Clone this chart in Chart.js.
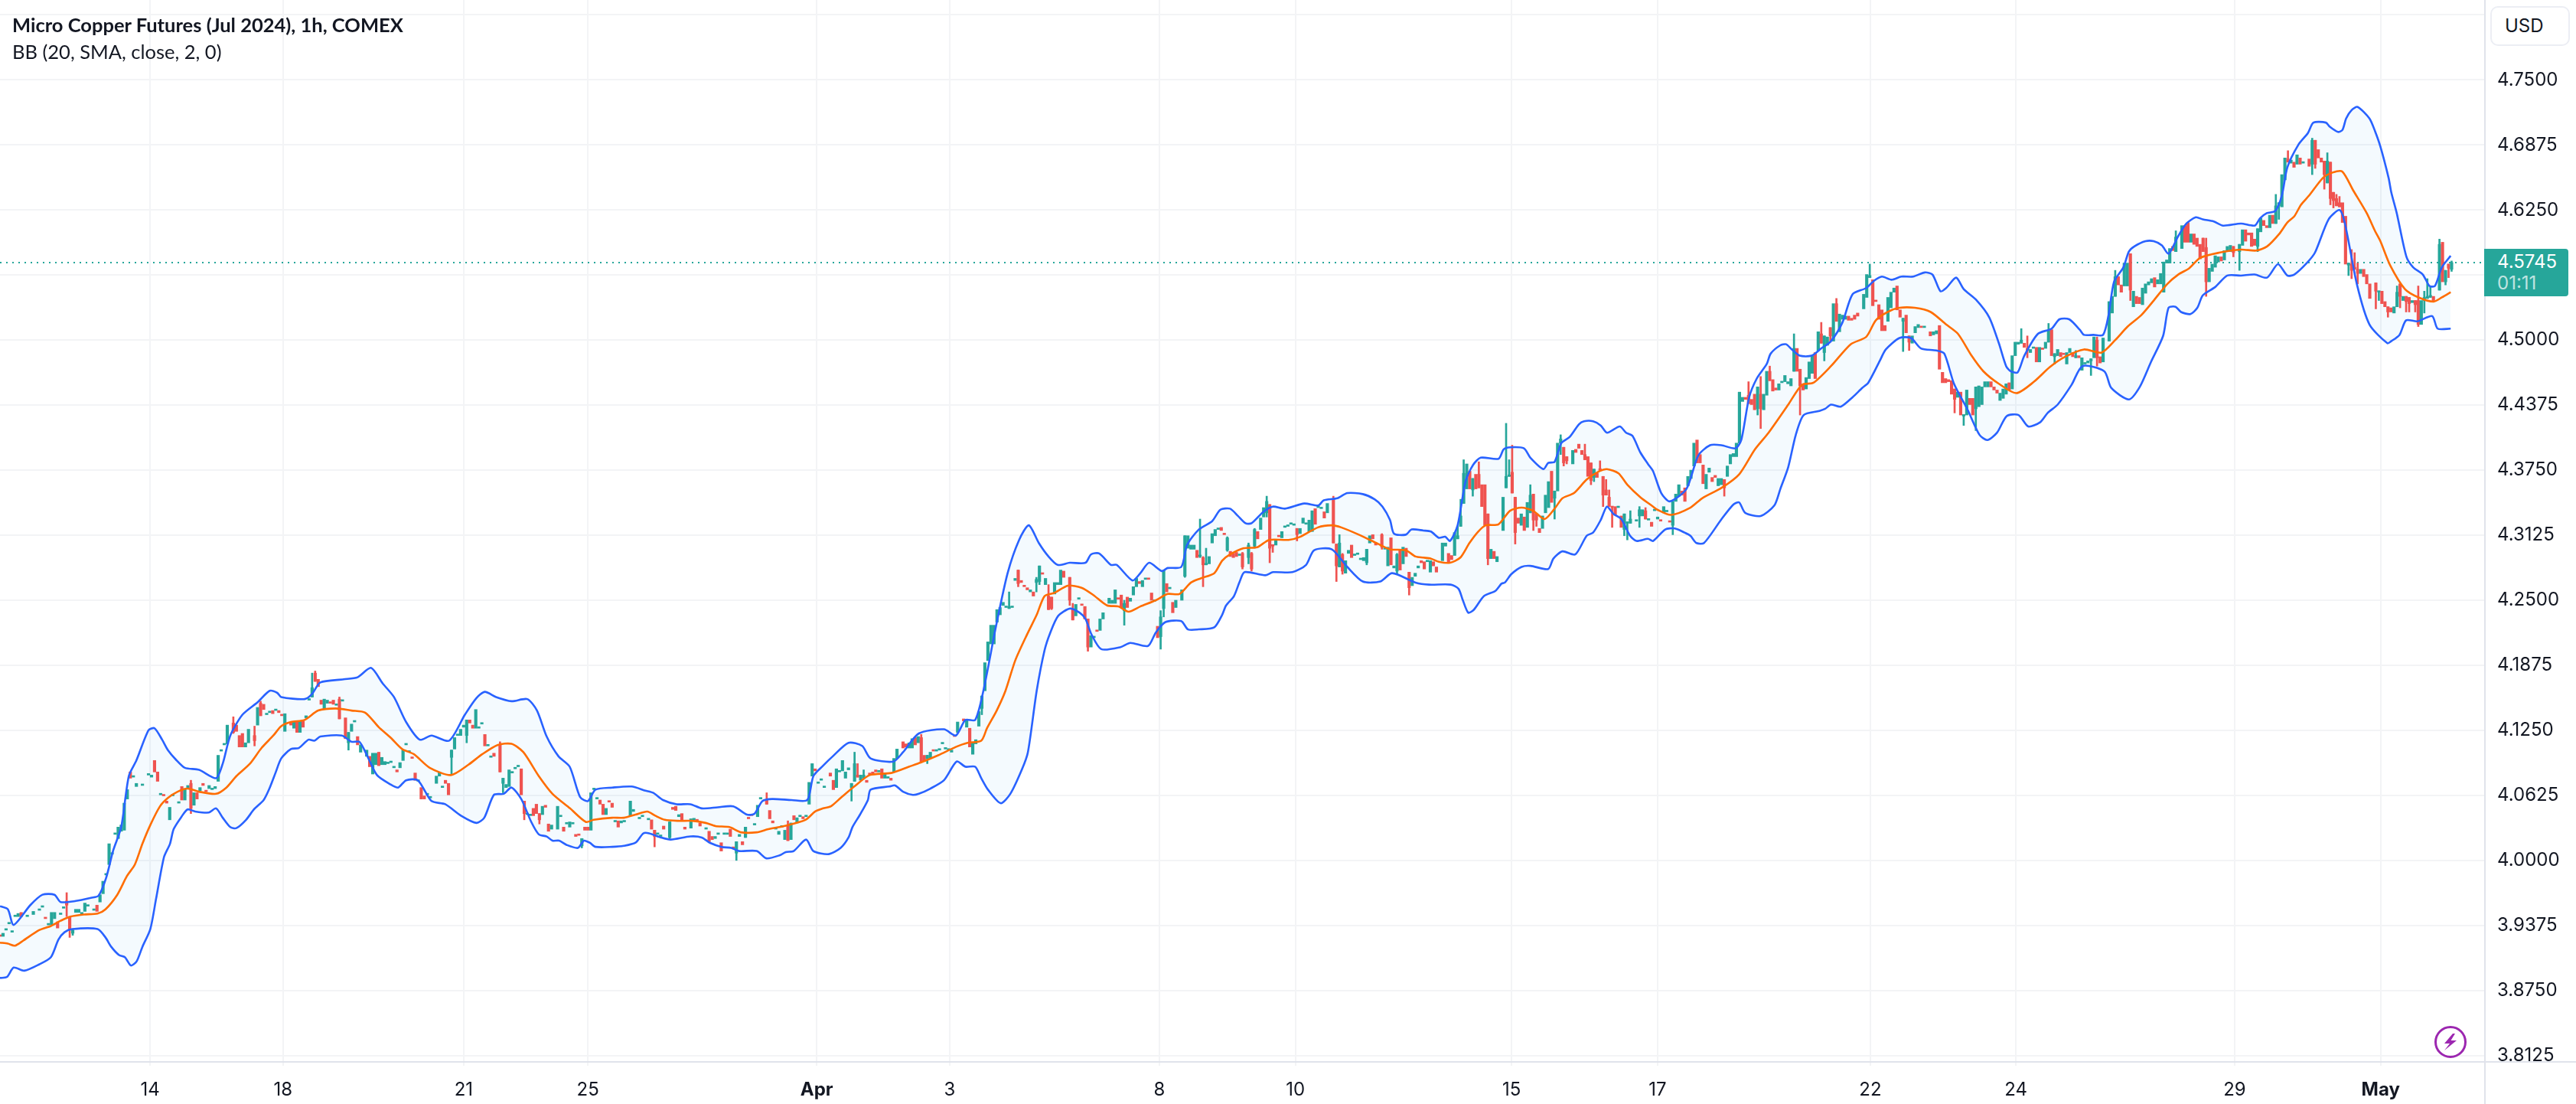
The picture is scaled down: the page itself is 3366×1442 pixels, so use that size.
<!DOCTYPE html>
<html>
<head>
<meta charset="utf-8">
<title>Micro Copper Futures</title>
<script src="https://cdn.jsdelivr.net/npm/chart.js@4"></script>
<style>
  body { margin: 0; background: #fff; font-family: Inter, sans-serif; color: #131722; }
  #wrap { position: relative; width: 3366px; height: 1442px; overflow: hidden; }
  canvas { position: absolute; left: 0; top: 0; }
  .title { position: absolute; left: 16px; font-family: Lato, sans-serif; font-size: 25.5px; line-height: 30px; white-space: nowrap; }
  #usd { position: absolute; left: 3254px; top: 8px; width: 104px; height: 52px; box-sizing: border-box; border: 2px solid #eceef4; border-radius: 10px; font-size: 24px; line-height: 48px; padding-left: 17px; background: #fff; }
  #last { position: absolute; left: 3246px; top: 325px; width: 110px; height: 62px; background: #26a69a; border-radius: 0 4px 4px 0; color: #fff; font-size: 24px; }
  #last div { position: absolute; left: 17px; line-height: 28px; }
  .edge { position: absolute; background: #e0e3eb; }
  #bolt { position: absolute; left: 3180px; top: 1339px; }
</style>
</head>
<body>
<div id="wrap">
  <canvas id="chart" width="3366" height="1442"></canvas>
  <div class="edge" style="left:3246px;top:0;width:2px;height:1442px"></div>
  <div class="edge" style="left:0;top:1386px;width:3366px;height:2px"></div>
  <div class="title" style="top:17px;font-weight:700">Micro Copper Futures (Jul 2024), 1h, COMEX</div>
  <div class="title" style="top:52px">BB (20, SMA, close, 2, 0)</div>
  <div id="usd">USD</div>
  <div id="last"><div style="top:3px">4.5745</div><div style="top:31px;opacity:.7">01:11</div></div>
  <svg id="bolt" width="44" height="44" viewBox="0 0 44 44">
    <circle cx="22" cy="22" r="19.5" fill="none" stroke="#9c27b0" stroke-width="3"/>
    <path d="M25 11 L14 24 L21 24 L14 33 L30 20 L22.500 20 L28 11 Z" fill="#9c27b0"/>
  </svg>
</div>
<script>
const yTicks = [4.8125,4.75,4.6875,4.625,4.5625,4.5,4.4375,4.375,4.3125,4.25,4.1875,4.125,4.0625,4,3.9375,3.875,3.8125]
const yLabels = ["","4.7500","4.6875","4.6250","","4.5000","4.4375","4.3750","4.3125","4.2500","4.1875","4.1250","4.0625","4.0000","3.9375","3.8750","3.8125"]
const xTickBars = [49.5,93.4,153,194,269.5,313.4,382.6,427.5,498.8,547,617.2,665.2,737.4,785.6]
const xLabels = ["14","18","21","25","Apr","3","8","10","15","17","22","24","29","May"]
const boldLabels = ["Apr","May"]
const lastPrice = 4.5745

const candleBars = [
0,1,2,3,4,5,6,7,9,11,13,14,15,16,17,18,19,20,21,22,
23,24,25,26,27,28,29,31,32,33,34,35,36,37,38,39,40,41,42,43,
44,45,47,49,50,51,52,53,54,55,56,57,59,60,61,62,63,64,65,66,
67,68,69,70,71,72,73,74,75,77,78,79,80,81,82,84,85,86,87,88,
89,90,91,92,93,94,96,97,98,99,100,101,102,103,104,105,106,107,108,109,
110,111,112,113,114,115,116,117,118,119,121,122,123,124,125,126,127,128,129,130,
131,132,133,134,135,136,137,138,139,140,141,142,144,145,146,147,148,149,150,151,
152,153,154,155,156,157,158,159,160,161,162,163,165,166,167,168,169,170,171,172,
173,174,175,176,177,178,179,180,181,182,184,185,186,187,188,189,190,191,192,193,
194,195,196,197,198,199,200,201,202,203,204,205,206,208,209,211,212,214,215,216,
217,218,219,221,222,223,224,225,226,228,229,230,231,233,234,235,236,237,238,239,
240,241,242,243,244,245,246,247,248,249,250,251,253,254,255,256,257,258,259,260,
261,262,263,264,265,266,267,268,269,270,271,272,274,275,276,277,278,279,280,281,
282,283,284,285,286,287,288,289,290,291,292,293,294,295,296,298,299,300,301,302,
303,304,305,306,307,308,309,310,311,312,313,314,315,316,318,319,320,321,322,323,
324,325,326,327,328,329,330,331,332,333,334,335,336,337,338,339,340,341,342,343,
344,345,346,347,348,349,350,351,353,354,355,356,357,358,359,360,361,362,363,364,
366,367,368,369,370,371,372,373,374,375,376,377,378,379,380,381,382,383,384,385,
386,387,388,390,391,392,393,394,395,396,397,398,399,400,401,402,403,404,405,406,
407,408,409,410,412,413,414,415,416,417,418,419,420,421,422,423,424,425,426,427,
428,429,430,431,432,433,434,435,436,437,438,440,441,442,443,444,445,446,447,448,
449,450,451,452,453,454,456,457,458,459,460,461,462,463,464,465,466,467,468,469,
470,471,472,473,474,476,477,478,479,480,481,482,483,484,485,486,487,488,489,490,
491,492,493,494,496,497,498,499,500,501,502,503,504,505,506,507,508,509,510,511,
512,513,514,515,516,517,519,520,521,522,523,524,525,526,527,528,529,530,531,532,
533,534,535,536,537,538,540,541,542,543,544,545,546,547,548,549,550,551,552,553,
554,555,556,557,558,559,560,561,562,563,564,565,566,567,568,569,570,571,572,573,
574,575,576,577,578,579,580,581,582,583,584,585,586,587,588,589,590,591,592,593,
594,595,596,597,598,599,600,601,602,603,604,605,606,607,608,609,610,611,612,613,
615,616,617,618,619,620,621,622,623,624,625,626,627,628,629,630,631,632,633,634,
635,637,638,639,640,641,642,643,644,645,646,647,648,649,650,651,652,653,654,655,
656,657,658,659,660,661,662,663,664,665,666,667,668,669,670,671,672,673,674,675,
676,677,678,679,680,681,682,683,684,685,686,687,688,689,690,691,692,693,694,696,
697,698,699,700,701,702,703,704,705,706,707,708,709,710,711,712,713,714,715,716,
717,718,720,721,722,723,724,725,726,727,728,729,730,731,732,733,734,735,736,737,
739,740,741,742,743,744,745,746,747,748,749,750,751,752,753,754,755,756,757,758,
759,760,762,763,764,765,766,767,768,769,770,771,772,773,774,775,776,777,778,779,
780,781,782,784,785,786,787,788,789,790,791,792,793,794,795,796,797,798,799,800,
801,802,803,805,806,807,808,809]

const candleOpen = [
3.928,3.927,3.933,3.939,3.931,3.946,3.946,3.950,3.946,3.948,3.952,3.955,3.945,3.938,3.938,3.944,3.941,3.948,3.954,3.961,
3.946,3.930,3.950,3.950,3.948,3.951,3.956,3.952,3.957,3.960,3.968,3.986,3.996,4.006,4.025,4.021,4.028,4.029,4.059,4.085,
4.080,4.071,4.072,4.082,4.080,4.096,4.085,4.063,4.063,4.057,4.039,4.062,4.055,4.071,4.058,4.069,4.074,4.053,4.065,4.067,
4.074,4.067,4.069,4.068,4.069,4.076,4.105,4.111,4.112,4.132,4.130,4.120,4.122,4.109,4.113,4.120,4.130,4.151,4.150,4.140,
4.142,4.144,4.144,4.144,4.140,4.124,4.132,4.127,4.134,4.123,4.134,4.137,4.154,4.157,4.180,4.174,4.154,4.145,4.151,4.152,
4.154,4.149,4.155,4.153,4.137,4.113,4.124,4.133,4.119,4.104,4.100,4.100,4.083,4.092,4.104,4.092,4.092,4.093,4.094,4.089,
4.087,4.089,4.096,4.111,4.104,4.099,4.084,4.076,4.070,4.062,4.063,4.060,4.074,4.081,4.070,4.077,4.074,4.099,4.107,4.120,
4.120,4.128,4.120,4.135,4.130,4.127,4.127,4.131,4.121,4.110,4.099,4.103,4.111,4.074,4.070,4.071,4.084,4.088,4.090,4.088,
4.057,4.044,4.043,4.050,4.054,4.045,4.044,4.053,4.035,4.030,4.030,4.042,4.032,4.035,4.032,4.035,4.025,4.025,4.014,4.032,
4.032,4.029,4.068,4.059,4.058,4.054,4.044,4.057,4.055,4.037,4.038,4.036,4.037,4.043,4.047,4.040,4.042,4.039,4.039,4.029,
4.025,4.023,4.033,4.022,4.051,4.052,4.042,4.045,4.032,4.031,4.039,4.039,4.036,4.030,4.028,4.023,4.021,4.025,4.017,4.025,
4.025,4.030,4.013,4.007,4.023,4.018,4.022,4.041,4.044,4.034,4.042,4.059,4.058,4.048,4.038,4.030,4.025,4.032,4.020,4.034,
4.020,4.043,4.036,4.042,4.042,4.042,4.054,4.081,4.088,4.074,4.077,4.070,4.084,4.077,4.070,4.085,4.086,4.079,4.087,4.070,
4.076,4.082,4.077,4.079,4.077,4.084,4.085,4.087,4.085,4.088,4.079,4.079,4.079,4.085,4.098,4.114,4.112,4.108,4.108,4.118,
4.113,4.118,4.101,4.098,4.098,4.106,4.105,4.106,4.112,4.107,4.106,4.104,4.120,4.123,4.136,4.128,4.127,4.102,4.112,4.129,
4.146,4.163,4.192,4.208,4.208,4.229,4.236,4.245,4.243,4.242,4.243,4.269,4.279,4.269,4.264,4.262,4.258,4.258,4.267,4.268,
4.276,4.265,4.254,4.253,4.256,4.265,4.265,4.278,4.272,4.241,4.235,4.251,4.246,4.244,4.232,4.205,4.214,4.221,4.221,4.232,
4.247,4.247,4.247,4.252,4.255,4.240,4.253,4.249,4.255,4.263,4.268,4.263,4.270,4.271,4.257,4.249,4.225,4.215,4.242,4.266,
4.261,4.248,4.243,4.250,4.273,4.300,4.299,4.299,4.298,4.292,4.291,4.284,4.285,4.305,4.312,4.318,4.320,4.314,4.298,4.297,
4.295,4.296,4.293,4.295,4.291,4.295,4.302,4.316,4.318,4.330,4.334,4.342,4.303,4.303,4.312,4.310,4.320,4.321,4.323,4.322,
4.319,4.314,4.324,4.323,4.316,4.316,4.338,4.339,4.338,4.335,4.334,4.347,4.304,4.282,4.294,4.276,4.295,4.303,4.293,4.294,
4.289,4.288,4.286,4.305,4.313,4.305,4.313,4.299,4.283,4.310,4.281,4.278,4.298,4.285,4.300,4.277,4.264,4.273,4.281,4.288,
4.287,4.287,4.277,4.287,4.282,4.288,4.302,4.295,4.293,4.293,4.309,4.321,4.343,4.357,4.374,4.356,4.371,4.371,4.361,4.361,
4.333,4.290,4.297,4.287,4.317,4.358,4.369,4.373,4.349,4.329,4.322,4.330,4.320,4.334,4.352,4.333,4.319,4.319,4.334,4.339,
4.374,4.348,4.355,4.401,4.397,4.388,4.381,4.395,4.400,4.394,4.390,4.388,4.382,4.368,4.372,4.376,4.369,4.356,4.349,4.340,
4.340,4.339,4.331,4.318,4.324,4.324,4.326,4.331,4.331,4.336,4.327,4.325,4.336,4.328,4.327,4.334,4.335,4.326,4.322,4.345,
4.350,4.355,4.358,4.360,4.367,4.379,4.404,4.390,4.380,4.357,4.373,4.368,4.370,4.360,4.361,4.366,4.369,4.381,4.388,4.388,
4.401,4.441,4.445,4.447,4.443,4.448,4.434,4.448,4.433,4.447,4.470,4.462,4.454,4.452,4.459,4.460,4.458,4.456,4.470,4.492,
4.472,4.457,4.453,4.463,4.468,4.488,4.490,4.506,4.488,4.495,4.512,4.499,4.535,4.508,4.520,4.520,4.523,4.521,4.524,4.526,
4.530,4.541,4.560,4.558,4.538,4.534,4.529,4.514,4.518,4.531,4.546,4.552,4.529,4.518,4.524,4.504,4.497,4.507,4.512,4.513,
4.512,4.508,4.505,4.506,4.514,4.469,4.463,4.462,4.461,4.453,4.445,4.450,4.427,4.428,4.444,4.444,4.434,4.436,4.438,4.455,
4.455,4.460,4.455,4.452,4.442,4.444,4.448,4.459,4.453,4.485,4.496,4.497,4.497,4.492,4.488,4.492,4.493,4.479,4.492,4.492,
4.498,4.510,4.484,4.485,4.488,4.487,4.477,4.488,4.488,4.483,4.485,4.471,4.477,4.478,4.480,4.483,4.500,4.484,4.479,4.499,
4.526,4.542,4.561,4.553,4.552,4.552,4.583,4.532,4.542,4.541,4.534,4.545,4.553,4.555,4.560,4.554,4.554,4.546,4.574,4.574,
4.590,4.585,4.588,4.610,4.613,4.594,4.602,4.598,4.592,4.598,4.589,4.556,4.566,4.570,4.575,4.580,4.577,4.585,4.585,4.590,
4.585,4.591,4.606,4.603,4.603,4.597,4.590,4.604,4.615,4.610,4.608,4.620,4.612,4.629,4.628,4.654,4.674,4.670,4.671,4.669,
4.675,4.670,4.674,4.669,4.692,4.683,4.675,4.672,4.651,4.671,4.642,4.636,4.632,4.632,4.619,4.572,4.573,4.570,4.568,4.564,
4.568,4.563,4.554,4.555,4.546,4.547,4.537,4.532,4.531,4.526,4.532,4.554,4.538,4.542,4.541,4.536,4.538,4.538,4.515,4.538,
4.540,4.541,4.542,4.548,4.594,4.556,4.573,4.568]

const candleClose = [
3.927,3.930,3.934,3.940,3.932,3.947,3.949,3.946,3.947,3.951,3.953,3.956,3.944,3.939,3.950,3.950,3.935,3.949,3.955,3.957,
3.934,3.933,3.953,3.953,3.950,3.959,3.957,3.953,3.951,3.967,3.980,3.987,4.016,4.007,4.026,4.032,4.034,4.055,4.068,4.079,
4.081,4.074,4.073,4.083,4.082,4.085,4.076,4.064,4.062,4.055,4.051,4.063,4.056,4.058,4.069,4.072,4.050,4.065,4.059,4.070,
4.072,4.066,4.072,4.069,4.071,4.101,4.106,4.112,4.130,4.123,4.124,4.109,4.109,4.113,4.126,4.115,4.147,4.139,4.145,4.141,
4.143,4.141,4.145,4.142,4.139,4.141,4.130,4.133,4.123,4.134,4.128,4.139,4.155,4.166,4.172,4.167,4.150,4.155,4.154,4.151,
4.150,4.150,4.136,4.154,4.117,4.123,4.131,4.134,4.111,4.111,4.106,4.090,4.103,4.103,4.091,4.099,4.095,4.094,4.095,4.090,
4.085,4.094,4.106,4.112,4.105,4.098,4.077,4.077,4.059,4.059,4.064,4.061,4.081,4.085,4.071,4.074,4.063,4.106,4.118,4.121,
4.126,4.130,4.135,4.132,4.127,4.145,4.128,4.132,4.110,4.111,4.100,4.100,4.085,4.079,4.073,4.087,4.085,4.089,4.091,4.063,
4.045,4.045,4.044,4.043,4.045,4.039,4.052,4.051,4.028,4.034,4.052,4.043,4.028,4.036,4.037,4.036,4.023,4.024,4.021,4.029,
4.029,4.065,4.069,4.060,4.054,4.044,4.050,4.056,4.051,4.038,4.032,4.038,4.038,4.057,4.049,4.041,4.043,4.040,4.030,4.023,
4.026,4.024,4.030,4.037,4.049,4.048,4.044,4.039,4.030,4.040,4.040,4.038,4.033,4.031,4.018,4.020,4.023,4.026,4.009,4.026,
4.026,4.023,4.011,4.018,4.025,4.015,4.032,4.040,4.043,4.035,4.053,4.060,4.054,4.040,4.036,4.031,4.028,4.033,4.029,4.019,
4.036,4.039,4.041,4.043,4.040,4.043,4.075,4.093,4.086,4.075,4.078,4.071,4.081,4.068,4.088,4.086,4.096,4.085,4.089,4.074,
4.093,4.080,4.082,4.082,4.075,4.082,4.083,4.085,4.086,4.079,4.083,4.080,4.077,4.098,4.107,4.108,4.109,4.113,4.117,4.111,
4.119,4.095,4.095,4.101,4.104,4.105,4.106,4.107,4.113,4.108,4.107,4.106,4.119,4.133,4.134,4.135,4.109,4.113,4.116,4.143,
4.158,4.190,4.210,4.226,4.226,4.241,4.243,4.248,4.244,4.244,4.244,4.271,4.266,4.267,4.263,4.260,4.260,4.254,4.270,4.283,
4.275,4.271,4.241,4.242,4.267,4.267,4.279,4.272,4.250,4.231,4.246,4.252,4.245,4.232,4.205,4.216,4.215,4.220,4.232,4.238,
4.252,4.250,4.260,4.251,4.243,4.247,4.243,4.252,4.263,4.271,4.266,4.269,4.271,4.270,4.250,4.250,4.214,4.234,4.279,4.258,
4.262,4.238,4.250,4.260,4.312,4.312,4.303,4.303,4.291,4.293,4.284,4.285,4.292,4.314,4.318,4.319,4.317,4.313,4.310,4.292,
4.291,4.292,4.294,4.282,4.303,4.280,4.318,4.309,4.329,4.339,4.345,4.300,4.302,4.308,4.311,4.316,4.321,4.322,4.324,4.323,
4.313,4.319,4.329,4.324,4.327,4.336,4.323,4.340,4.339,4.329,4.343,4.305,4.283,4.305,4.278,4.288,4.298,4.291,4.294,4.295,
4.290,4.291,4.299,4.312,4.309,4.303,4.301,4.300,4.301,4.284,4.283,4.294,4.279,4.301,4.292,4.262,4.272,4.276,4.283,4.286,
4.280,4.288,4.288,4.283,4.277,4.305,4.305,4.286,4.289,4.315,4.312,4.331,4.372,4.381,4.357,4.367,4.357,4.358,4.340,4.322,
4.290,4.299,4.290,4.292,4.349,4.369,4.370,4.353,4.315,4.324,4.333,4.317,4.344,4.351,4.327,4.327,4.315,4.331,4.351,4.364,
4.344,4.355,4.401,4.405,4.382,4.384,4.394,4.392,4.396,4.390,4.385,4.369,4.365,4.376,4.368,4.375,4.351,4.351,4.340,4.339,
4.332,4.340,4.320,4.333,4.325,4.328,4.327,4.337,4.337,4.328,4.328,4.321,4.337,4.330,4.326,4.340,4.336,4.325,4.345,4.352,
4.361,4.351,4.345,4.369,4.375,4.401,4.382,4.382,4.362,4.371,4.377,4.364,4.368,4.367,4.367,4.358,4.379,4.390,4.391,4.401,
4.450,4.445,4.443,4.439,4.438,4.433,4.455,4.434,4.448,4.470,4.461,4.451,4.452,4.458,4.460,4.466,4.460,4.463,4.492,4.470,
4.456,4.452,4.464,4.479,4.485,4.463,4.508,4.497,4.504,4.503,4.504,4.535,4.518,4.525,4.524,4.523,4.519,4.519,4.520,4.523,
4.544,4.563,4.562,4.533,4.537,4.520,4.509,4.509,4.541,4.546,4.550,4.529,4.522,4.521,4.507,4.498,4.504,4.513,4.515,4.512,
4.513,4.504,4.508,4.509,4.472,4.459,4.459,4.460,4.448,4.443,4.450,4.428,4.428,4.452,4.438,4.428,4.455,4.456,4.455,4.460,
4.460,4.455,4.452,4.449,4.449,4.453,4.458,4.452,4.485,4.498,4.498,4.500,4.493,4.490,4.491,4.493,4.479,4.493,4.491,4.498,
4.509,4.485,4.487,4.491,4.484,4.486,4.488,4.492,4.484,4.485,4.483,4.483,4.478,4.480,4.482,4.503,4.483,4.478,4.502,4.537,
4.542,4.561,4.553,4.546,4.574,4.574,4.548,4.547,4.535,4.535,4.550,4.554,4.556,4.559,4.551,4.558,4.564,4.575,4.577,4.588,
4.586,4.599,4.610,4.594,4.594,4.602,4.592,4.590,4.578,4.585,4.556,4.569,4.573,4.581,4.580,4.576,4.586,4.590,4.591,4.584,
4.592,4.606,4.595,4.601,4.590,4.591,4.607,4.617,4.610,4.608,4.620,4.612,4.629,4.632,4.659,4.675,4.671,4.673,4.666,4.678,
4.669,4.671,4.667,4.692,4.669,4.675,4.671,4.659,4.672,4.636,4.634,4.629,4.628,4.613,4.573,4.574,4.567,4.568,4.564,4.568,
4.561,4.554,4.540,4.547,4.547,4.535,4.532,4.527,4.527,4.532,4.546,4.542,4.542,4.537,4.535,4.538,4.534,4.515,4.538,4.541,
4.542,4.543,4.538,4.592,4.556,4.567,4.569,4.5745]

const wickBars = [
22,23,24,63,77,84,86,103,104,112,115,149,154,165,166,173,178,192,216,221,
243,246,253,260,281,282,283,285,304,306,324,333,336,342,343,346,347,353,354,359,
371,383,384,391,396,397,398,405,410,412,413,414,418,419,420,428,440,441,442,443,
451,456,461,465,481,482,483,486,488,491,497,498,499,500,505,506,507,513,515,516,
517,523,525,526,528,529,530,531,532,536,537,538,541,543,552,569,577,580,581,584,
592,594,601,602,604,606,617,628,630,645,648,652,667,669,676,678,685,690,692,698,
703,714,718,727,728,737,739,745,751,752,755,763,764,767,768,769,770,771,772,775,
776,777,778,784,785,788,791,792,794,795,797,798,800,801,802,805,807,808,809]

const wickHigh = [
3.969,3.946,3.934,4.077,4.138,4.129,4.153,4.180,4.182,4.157,4.123,4.106,4.135,4.114,4.079,4.057,4.045,4.021,4.029,4.037,
4.018,4.032,4.065,4.038,4.074,4.104,4.093,4.087,4.121,4.101,4.158,4.258,4.279,4.272,4.283,4.265,4.253,4.272,4.247,4.232,
4.250,4.240,4.279,4.312,4.328,4.292,4.300,4.311,4.296,4.305,4.296,4.319,4.350,4.342,4.303,4.319,4.350,4.304,4.313,4.295,
4.299,4.314,4.295,4.277,4.321,4.347,4.385,4.367,4.383,4.333,4.420,4.385,4.399,4.349,4.361,4.352,4.333,4.355,4.409,4.397,
4.388,4.400,4.382,4.376,4.384,4.369,4.366,4.356,4.340,4.333,4.325,4.336,4.340,4.339,4.345,4.366,4.460,4.455,4.465,4.475,
4.506,4.472,4.517,4.504,4.512,4.540,4.573,4.521,4.504,4.453,4.428,4.455,4.511,4.504,4.516,4.487,4.490,4.482,4.503,4.567,
4.583,4.575,4.605,4.598,4.598,4.590,4.592,4.607,4.640,4.632,4.682,4.694,4.692,4.672,4.680,4.671,4.642,4.640,4.638,4.574,
4.587,4.584,4.574,4.555,4.547,4.532,4.552,4.554,4.542,4.541,4.538,4.552,4.547,4.559,4.551,4.597,4.567,4.573,4.576]

const wickLow = [
3.946,3.926,3.928,4.045,4.122,4.110,4.139,4.157,4.172,4.136,4.106,4.082,4.113,4.085,4.065,4.039,4.035,4.012,4.013,4.021,
4.000,4.022,4.054,4.019,4.057,4.076,4.080,4.079,4.095,4.093,4.140,4.242,4.263,4.258,4.265,4.241,4.241,4.245,4.231,4.201,
4.226,4.203,4.234,4.272,4.291,4.263,4.284,4.297,4.280,4.285,4.278,4.300,4.330,4.286,4.296,4.307,4.305,4.268,4.282,4.275,
4.284,4.299,4.275,4.255,4.309,4.321,4.343,4.350,4.358,4.284,4.358,4.369,4.353,4.304,4.334,4.317,4.321,4.328,4.390,4.379,
4.381,4.385,4.361,4.364,4.375,4.340,4.351,4.340,4.320,4.312,4.308,4.324,4.320,4.328,4.313,4.350,4.439,4.428,4.415,4.461,
4.470,4.428,4.497,4.480,4.498,4.518,4.560,4.489,4.490,4.430,4.418,4.413,4.497,4.483,4.498,4.477,4.483,4.466,4.475,4.542,
4.538,4.546,4.585,4.585,4.542,4.580,4.567,4.585,4.612,4.616,4.671,4.659,4.665,4.645,4.651,4.630,4.627,4.629,4.628,4.562,
4.559,4.568,4.554,4.530,4.538,4.522,4.532,4.531,4.527,4.527,4.527,4.513,4.526,4.540,4.541,4.548,4.553,4.560,4.566]

const upperBars = [
0,2.6,4.5,10,14,18,20,25,30,32.5,35,37.4,40,42.5,45,49,51,53.5,55.4,58,
61,65.7,71.3,73.5,76,80,85,89,91.5,92.8,100.5,103,105.7,113.4,118,122.4,126.3,130,134,138.5,
142.4,148.2,153.4,157.2,160,163.7,168.8,174,177.2,180.4,184.3,188,191.4,194,196.5,202,208.4,213,215.5,218.8,
223.3,227.8,231.6,236.8,242,246.5,249,251.6,254.8,261.3,266.4,268.4,271.6,274.8,280,284.5,287.3,294.8,298,303.2,
311.5,315.4,318.6,321.8,324.5,328.6,332.5,336.3,339.5,342.8,346,349,353,358.2,360,362.7,366.6,368.5,373.7,376.3,
379.2,383.4,385.3,389.8,391.7,395.6,400,402.7,405.9,408.5,411,413,416.9,420,424,430.4,435,436.8,441.3,444.6,
449.7,453.6,456.2,458.7,460,463.9,465.8,469.7,472.2,474.8,476.9,478.5,481,483.6,486.1,488.6,494.5,496.2,498.3,502.9,
505,509.3,510.9,513,515.2,518,521,522.7,525.7,528.2,530.3,534.5,536.6,538.7,541.3,543.8,545.5,548.2,551,556.5,
560.4,564.3,568,572.7,574.6,577.2,579.7,583,584.3,587.5,589.4,591.3,593.9,597.8,601,604.2,608,611.3,615.8,618.4,
621,624.2,627.4,631.3,635.2,637.7,640.3,642.2,645.5,648,652,656.4,659.6,662,663.5,665.8,668,672.5,677,679.6,
682.8,686.3,687.7,690.8,694,695.8,697.6,700.7,702.5,704.3,708,710.7,713.4,715.6,718.8,721.5,724.6,726.9,730.5,733.6,
739.5,744,745.8,748,750.8,753,754.8,758.5,761.6,763.4,767.5,768.8,771.5,773,774.2,776,778,781.9,783.7,785.5,
788.2,789.1,790.9,794.1,796.3,799.5,801.7,803.5,805.8,808.7]

const upperBand = [
3.956,3.953,3.938,3.957,3.967,3.967,3.960,3.961,3.964,3.966,3.983,4.010,4.032,4.081,4.096,4.125,4.127,4.116,4.106,4.097,
4.089,4.087,4.079,4.093,4.120,4.140,4.152,4.163,4.161,4.157,4.155,4.160,4.171,4.174,4.176,4.185,4.170,4.157,4.133,4.116,
4.120,4.115,4.140,4.156,4.162,4.157,4.153,4.155,4.144,4.119,4.100,4.090,4.061,4.057,4.068,4.070,4.071,4.067,4.065,4.058,
4.054,4.054,4.050,4.051,4.052,4.044,4.045,4.057,4.059,4.058,4.058,4.081,4.091,4.100,4.113,4.110,4.098,4.095,4.104,4.122,
4.126,4.120,4.135,4.135,4.163,4.224,4.276,4.308,4.322,4.305,4.292,4.284,4.286,4.286,4.294,4.295,4.284,4.284,4.269,4.276,
4.286,4.278,4.281,4.282,4.303,4.318,4.326,4.337,4.338,4.331,4.324,4.324,4.335,4.340,4.338,4.343,4.341,4.346,4.348,4.353,
4.352,4.347,4.340,4.327,4.314,4.313,4.318,4.317,4.316,4.310,4.311,4.307,4.322,4.364,4.380,4.387,4.386,4.395,4.397,4.396,
4.387,4.376,4.382,4.383,4.401,4.407,4.419,4.422,4.422,4.418,4.411,4.417,4.411,4.408,4.392,4.381,4.374,4.353,4.345,4.357,
4.389,4.399,4.399,4.396,4.404,4.445,4.463,4.477,4.487,4.495,4.496,4.491,4.485,4.485,4.492,4.499,4.517,4.544,4.550,4.557,
4.561,4.558,4.561,4.561,4.565,4.563,4.547,4.550,4.560,4.549,4.539,4.522,4.497,4.475,4.470,4.469,4.485,4.506,4.511,4.520,
4.520,4.510,4.505,4.505,4.505,4.524,4.556,4.570,4.585,4.590,4.595,4.595,4.591,4.583,4.600,4.612,4.618,4.616,4.614,4.610,
4.612,4.610,4.617,4.622,4.624,4.639,4.666,4.688,4.699,4.709,4.709,4.705,4.700,4.702,4.713,4.721,4.724,4.713,4.701,4.686,
4.656,4.642,4.622,4.580,4.570,4.563,4.552,4.552,4.570,4.581]

const basisBars = [
0,2.6,4.9,7.7,12.9,16.8,20,23.2,27.7,32.2,34.8,38.7,41.9,44.5,47,49.6,52.8,55.4,58.6,61.9,
65.7,71.3,74.7,78,82.5,86.3,90.2,92.8,96,100.5,105,110.8,116,120.5,125,128.9,132.7,136.6,141.8,148.8,
154.6,159.1,164.3,168.8,172.7,177.8,182.3,188.1,193.3,195.9,202,205.9,209.7,213.6,216.2,219.4,223.9,228.4,232.9,236.1,
240.7,244.5,249.7,253.5,258.7,265.8,269,271.6,274.2,277.4,281.9,287,294.1,299.9,303.8,309.6,315.4,319.3,323.8,325.7,
328.9,331.8,335,338.9,342.1,344.7,347.9,352.4,356.9,360.8,365.3,369.2,372.4,376.3,381.4,385.3,389.2,393,396.2,400.7,
403.3,405.9,410.4,414.9,418.8,425.2,429.1,434.9,439.4,442.6,448.4,454.2,458.7,463.9,467.1,469.7,472.2,474.8,478.5,481.9,
484.9,487.8,490.3,494.5,498.3,502.1,505.9,509.7,513,515.6,519.4,523.6,527.8,530.3,534.1,537,541.3,545.5,546.9,551.4,
557.8,561.7,568.1,573.9,579.1,583.6,590.1,594.6,598.4,604.2,610.7,615.8,619,622.9,626.8,631.9,637.1,642.2,646.1,650.6,
654.5,659.6,665.4,671.2,676.4,681.5,687.7,693.5,698,702.1,706.6,710.7,715.2,718.8,722.4,726,732.3,739.5,744.5,748.1,
752.1,754.8,757.1,759.3,762,766.6,769.7,772.9,776.5,781,783.7,785.5,788.7,793.6,798.1,803.1,805.8,808.7]

const basisBand = [
3.921,3.920,3.918,3.923,3.933,3.937,3.942,3.946,3.948,3.949,3.953,3.967,3.985,3.996,4.016,4.034,4.052,4.060,4.066,4.069,
4.066,4.064,4.070,4.081,4.093,4.108,4.120,4.129,4.133,4.135,4.144,4.146,4.144,4.142,4.128,4.118,4.107,4.102,4.089,4.082,
4.092,4.102,4.111,4.112,4.104,4.081,4.064,4.050,4.037,4.039,4.041,4.041,4.044,4.047,4.043,4.039,4.038,4.038,4.036,4.033,
4.032,4.027,4.027,4.030,4.033,4.039,4.047,4.050,4.052,4.060,4.071,4.082,4.084,4.090,4.094,4.101,4.109,4.113,4.115,4.127,
4.144,4.163,4.192,4.217,4.236,4.254,4.257,4.264,4.262,4.255,4.245,4.244,4.239,4.244,4.250,4.256,4.256,4.267,4.271,4.276,
4.288,4.294,4.300,4.301,4.308,4.308,4.311,4.320,4.322,4.320,4.313,4.305,4.299,4.298,4.292,4.291,4.290,4.287,4.286,4.291,
4.305,4.316,4.322,4.323,4.336,4.339,4.336,4.328,4.338,4.348,4.353,4.366,4.374,4.376,4.372,4.361,4.349,4.340,4.337,4.332,
4.339,4.348,4.358,4.371,4.395,4.411,4.438,4.457,4.459,4.475,4.496,4.503,4.519,4.527,4.531,4.531,4.527,4.515,4.506,4.485,
4.470,4.458,4.449,4.460,4.474,4.484,4.491,4.488,4.500,4.513,4.524,4.538,4.554,4.563,4.569,4.579,4.584,4.587,4.586,4.590,
4.602,4.613,4.619,4.630,4.639,4.656,4.661,4.662,4.644,4.622,4.605,4.595,4.572,4.549,4.541,4.537,4.541,4.546]

const lowerBars = [
0,2.3,4.5,8,12.9,16.8,19.3,21.3,23.8,32.2,34.8,36.7,39.3,41.2,43.2,45.1,47,49.6,51.5,54.1,
56.1,57.3,59.9,61.9,64.4,68.9,71.3,73.5,76,78,81.2,83.8,87,88.9,90.9,92.8,96,98.6,101.8,103.7,
105.7,112.8,116,118.6,121.1,124.4,128.9,131.4,134,137.9,142.4,146.9,152.1,157.2,159.8,163,166.2,168.8,172,175.3,
177.8,180.4,182.3,184.5,186.9,190.7,192.7,194.6,196.5,202,205.9,209.7,212.3,214.2,218.1,221.3,227.8,231.6,234.2,238.1,
241.3,243.9,249.7,252.9,257.4,259.3,261.9,266,268.4,273.5,277.4,280,281.3,283.8,286.4,287.3,293.5,295.4,298,301.2,
303.2,307,311.5,315.7,318.6,321.8,323.8,326,330.2,333.4,337.3,339.2,342.1,344.7,346.6,349.2,353.1,356.3,358.2,360.2,
363.4,369.8,373,378.8,381.4,384.6,389.8,392,395.6,400.7,403.3,404.6,407.2,409.1,410.7,417.5,420.1,426.5,431,433.6,
439.4,444.6,449.7,455.5,459.4,467.1,471.6,478.7,481.3,482.6,484.5,486.4,489.7,493.5,495.5,496.6,498.7,502.1,505,510.9,
512.6,515.6,519.8,523.6,525.7,528.2,530.3,532.4,535,537.9,540,543.8,545.5,549.5,552.7,555.9,557.8,559.8,562.3,568.1,
572,573.9,575.9,581,585.5,587.5,590.1,592.6,595.2,600.4,602.3,604.2,607.4,611.3,614.5,616.5,620.3,622.3,626.8,630.6,
633.9,639,641.6,644.8,649.3,653.2,655.8,659,662.2,666.1,669.3,673.2,675.7,679,683.6,687.2,694.4,696.7,702.5,706.1,
709.8,713.8,715.6,717.9,719.7,722.8,725.1,726.9,731,735,739.5,744,748.1,751.7,754.8,757.1,761.2,763.9,768.4,772,
773.8,777.8,781.9,787.8,789.1,791.8,794,797.7,802.6,804.4,808.7]

const lowerBand = [
3.887,3.888,3.897,3.894,3.900,3.907,3.924,3.931,3.934,3.934,3.926,3.917,3.909,3.907,3.899,3.903,3.917,3.934,3.963,4.003,
4.016,4.030,4.042,4.049,4.047,4.046,4.050,4.041,4.032,4.031,4.039,4.049,4.058,4.069,4.084,4.098,4.107,4.108,4.116,4.115,
4.119,4.120,4.114,4.114,4.101,4.082,4.073,4.070,4.077,4.077,4.057,4.054,4.043,4.036,4.041,4.063,4.064,4.070,4.059,4.037,
4.025,4.023,4.019,4.019,4.015,4.012,4.019,4.017,4.013,4.013,4.014,4.017,4.026,4.026,4.022,4.020,4.023,4.022,4.017,4.013,
4.012,4.009,4.009,4.002,4.005,4.008,4.009,4.020,4.009,4.006,4.012,4.022,4.032,4.044,4.058,4.068,4.071,4.072,4.066,4.063,
4.064,4.069,4.077,4.095,4.090,4.090,4.079,4.068,4.055,4.064,4.088,4.104,4.163,4.202,4.219,4.235,4.242,4.238,4.232,4.217,
4.203,4.205,4.209,4.206,4.219,4.229,4.230,4.222,4.222,4.224,4.236,4.245,4.254,4.268,4.277,4.274,4.277,4.277,4.284,4.298,
4.299,4.282,4.268,4.268,4.276,4.267,4.265,4.265,4.261,4.251,4.238,4.241,4.254,4.259,4.266,4.267,4.275,4.282,4.283,4.280,
4.290,4.297,4.294,4.312,4.315,4.327,4.340,4.333,4.328,4.312,4.307,4.309,4.307,4.318,4.319,4.315,4.312,4.305,4.305,4.328,
4.342,4.344,4.334,4.331,4.341,4.357,4.378,4.409,4.428,4.432,4.434,4.438,4.436,4.445,4.454,4.459,4.480,4.491,4.502,4.502,
4.492,4.490,4.487,4.458,4.433,4.409,4.404,4.411,4.427,4.428,4.417,4.421,4.430,4.438,4.457,4.475,4.470,4.454,4.443,4.455,
4.479,4.504,4.531,4.532,4.527,4.525,4.531,4.543,4.551,4.562,4.562,4.563,4.560,4.573,4.562,4.563,4.574,4.584,4.616,4.625,
4.612,4.553,4.515,4.497,4.499,4.505,4.519,4.518,4.523,4.511,4.511]

const UP = "#26a69a"
const DOWN = "#ef5350"
const BLUE = "#2962ff"
const ORANGE = "#ff6d00"

let barColor = {}
candleBars.forEach((b, i) => { barColor[b] = candleClose[i] >= candleOpen[i] ? UP : DOWN })

function xy(bars, vals) { return bars.map((b, i) => ({ x: b, y: vals[i] })) }

const ctx = document.getElementById("chart").getContext("2d")
new Chart(ctx, {
  type: "bar",
  data: {
    datasets: [
      { type: "line", label: "Upper", data: xy(upperBars, upperBand), borderColor: BLUE, borderWidth: 2.6, pointRadius: 0, tension: 0.25, order: 0,
        fill: 2, backgroundColor: "rgba(33,150,243,0.05)" },
      { type: "line", label: "Basis", data: xy(basisBars, basisBand), borderColor: ORANGE, borderWidth: 2.6, pointRadius: 0, tension: 0.25, order: 0, fill: false },
      { type: "line", label: "Lower", data: xy(lowerBars, lowerBand), borderColor: BLUE, borderWidth: 2.6, pointRadius: 0, tension: 0.25, order: 0, fill: false },
      { label: "Bodies", data: candleBars.map((b, i) => ({ x: b, y: [candleOpen[i], candleClose[i]] })),
        backgroundColor: candleBars.map(b => barColor[b]), barThickness: 3.5, grouped: false, minBarLength: 2, order: 1 },
      { label: "Wicks", data: wickBars.map((b, i) => ({ x: b, y: [wickLow[i], wickHigh[i]] })),
        backgroundColor: wickBars.map(b => barColor[b]), barThickness: 2, grouped: false, order: 2 },
      { type: "line", label: "Last", data: [{ x: 0, y: lastPrice }, { x: 820, y: lastPrice }], borderColor: UP, borderWidth: 2, borderDash: [2, 6], pointRadius: 0, fill: false, order: 3 }
    ]
  },
  options: {
    responsive: false,
    devicePixelRatio: 1,
    animation: false,
    events: [],
    plugins: { legend: { display: false }, tooltip: { enabled: false }, filler: { drawTime: "beforeDatasetsDraw" } },
    layout: { padding: 0 },
    scales: {
      x: {
        type: "linear",
        min: 0,
        max: 820,
        offset: false,
        grid: { color: "#f3f4f6", lineWidth: 2, offset: false, drawTicks: false },
        border: { display: false },
        afterBuildTicks: s => { s.ticks = xTickBars.map(v => ({ value: v })) },
        afterFit: s => { s.height = 50; s.paddingLeft = 0; s.paddingRight = 0; s.paddingTop = 0; s.paddingBottom = 0 },
        ticks: {
          autoSkip: false,
          maxRotation: 0,
          padding: 17,
          color: "#131722",
          callback: (v, i) => xLabels[i],
          font: c => ({ family: "Inter", size: 24, weight: c.tick && boldLabels.includes(c.tick.label) ? "700" : "400" })
        }
      },
      y: {
        position: "right",
        min: 3.8027,
        max: 4.8268,
        grid: { color: "#f3f4f6", lineWidth: 2, drawTicks: false },
        border: { display: false },
        afterBuildTicks: s => { s.ticks = yTicks.map(v => ({ value: v })) },
        afterFit: s => { s.width = 119; s.paddingTop = 0; s.paddingBottom = 0 },
        ticks: {
          autoSkip: false,
          padding: 16,
          color: "#131722",
          callback: (v, i) => yLabels[i],
          font: { family: "Inter", size: 24 }
        }
      }
    }
  }
})
</script>
</body>
</html>
